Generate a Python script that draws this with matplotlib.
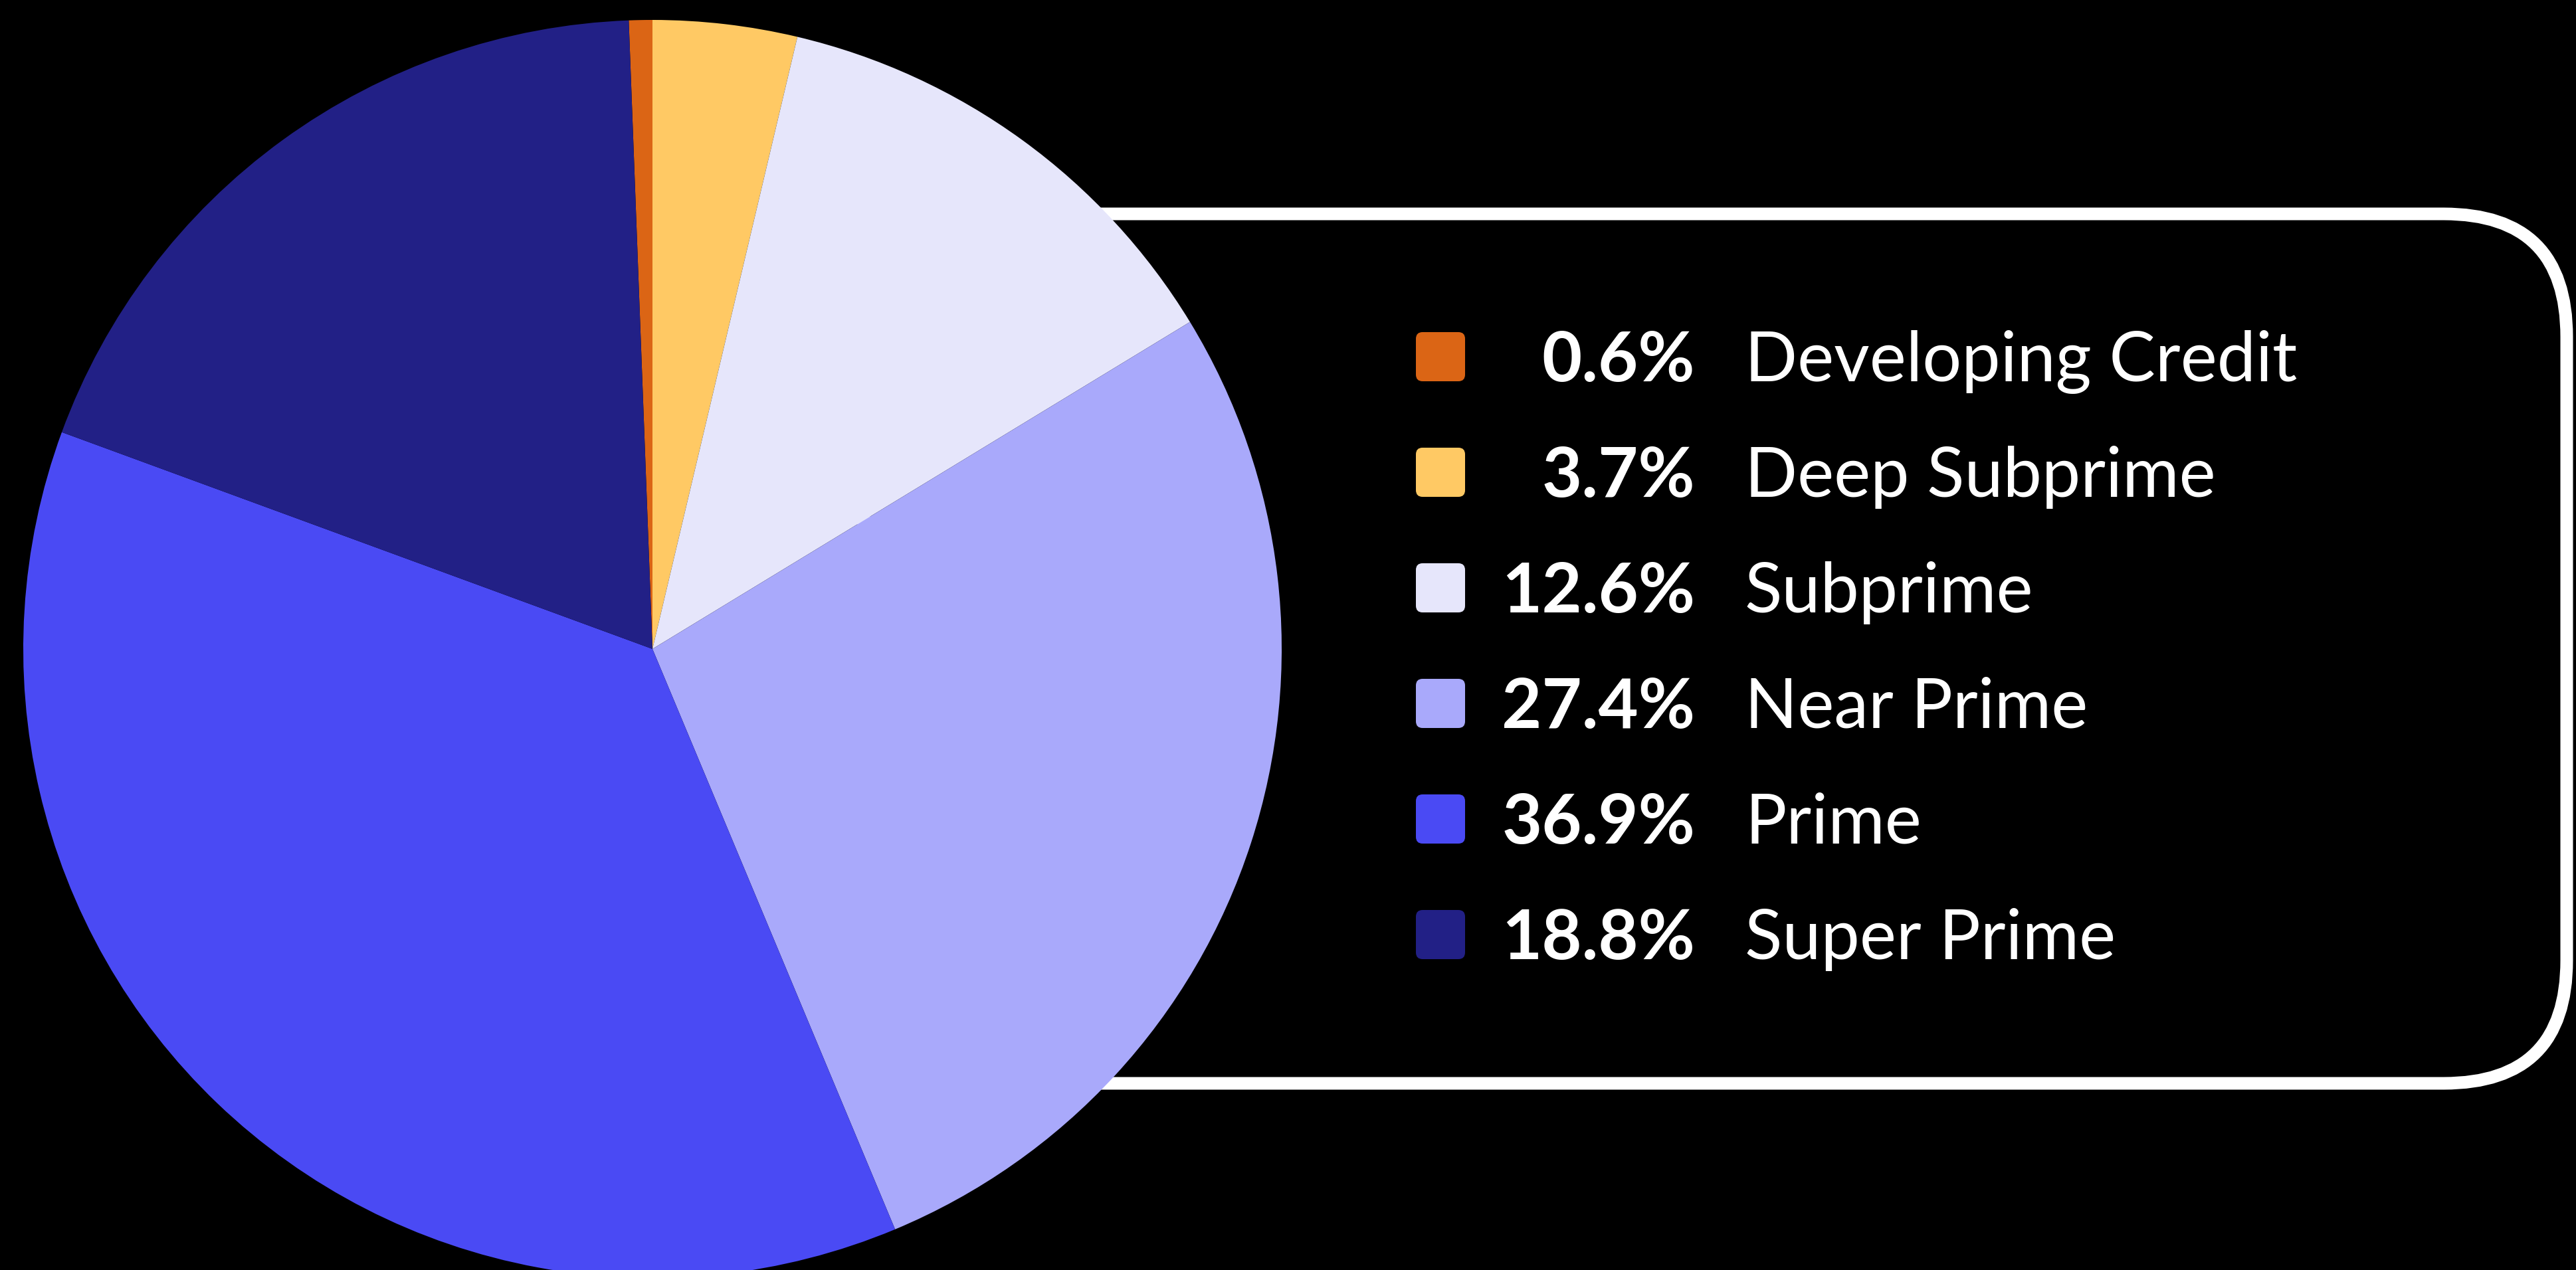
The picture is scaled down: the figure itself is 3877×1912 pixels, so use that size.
import matplotlib
matplotlib.use("Agg")
import matplotlib.pyplot as plt
from matplotlib.patches import FancyBboxPatch

categories = ["Developing Credit", "Deep Subprime", "Subprime", "Near Prime", "Prime", "Super Prime"]
shares = [0.6, 3.7, 12.6, 27.4, 36.9, 18.8]
pct_labels = ["0.6%", "3.7%", "12.6%", "27.4%", "36.9%", "18.8%"]
colors = ["#DB6515", "#FFC964", "#E6E6FB", "#A9A9FB", "#4A4AF4", "#222086"]

W, H = 3877, 1912
DPI = 100


def px_to_pt(px):
    return px * 72 / DPI


fig = plt.figure(figsize=(W / DPI, H / DPI), dpi=DPI, facecolor="black")
ax = fig.add_axes([0, 0, 1, 1])
ax.set_facecolor("black")

# pie: starts just left of 12 o'clock so "Developing Credit" ends exactly at the top
pie_cx, pie_cy, pie_r = 982, H - 977, 947
ax.pie(shares, colors=colors, startangle=90 + shares[0] * 3.6, counterclock=False,
       center=(pie_cx, pie_cy), radius=pie_r, wedgeprops=dict(linewidth=0, zorder=3))

# rounded legend frame, partly hidden behind the pie
box_left, box_right = 1300, 3863
box_top, box_bottom = 322, 1631
frame = FancyBboxPatch((box_left, H - box_bottom), box_right - box_left, box_bottom - box_top,
                       boxstyle="round,pad=0,rounding_size=185",
                       facecolor="black", edgecolor="white", linewidth=px_to_pt(19), zorder=1)
ax.add_patch(frame)

# legend rows
row0, row_step = 537, 174
sq = 74
fs = px_to_pt(104)
for i, (cat, pct, col) in enumerate(zip(categories, pct_labels, colors)):
    yc = H - (row0 + i * row_step)
    ax.add_patch(FancyBboxPatch((2131, yc - sq / 2), sq, sq,
                                boxstyle="round,pad=0,rounding_size=10",
                                facecolor=col, edgecolor="none", zorder=4))
    ax.text(2551, yc - sq / 2, pct, color="white", fontsize=fs, fontweight="bold",
            family="Lato", ha="right", va="baseline", zorder=4)
    ax.text(2626, yc - sq / 2, cat, color="white", fontsize=fs,
            family="Lato", ha="left", va="baseline", zorder=4)

ax.set_xlim(0, W)
ax.set_ylim(0, H)
ax.set_aspect("equal")
ax.axis("off")

fig.savefig("out.png", dpi=DPI, facecolor="black")
